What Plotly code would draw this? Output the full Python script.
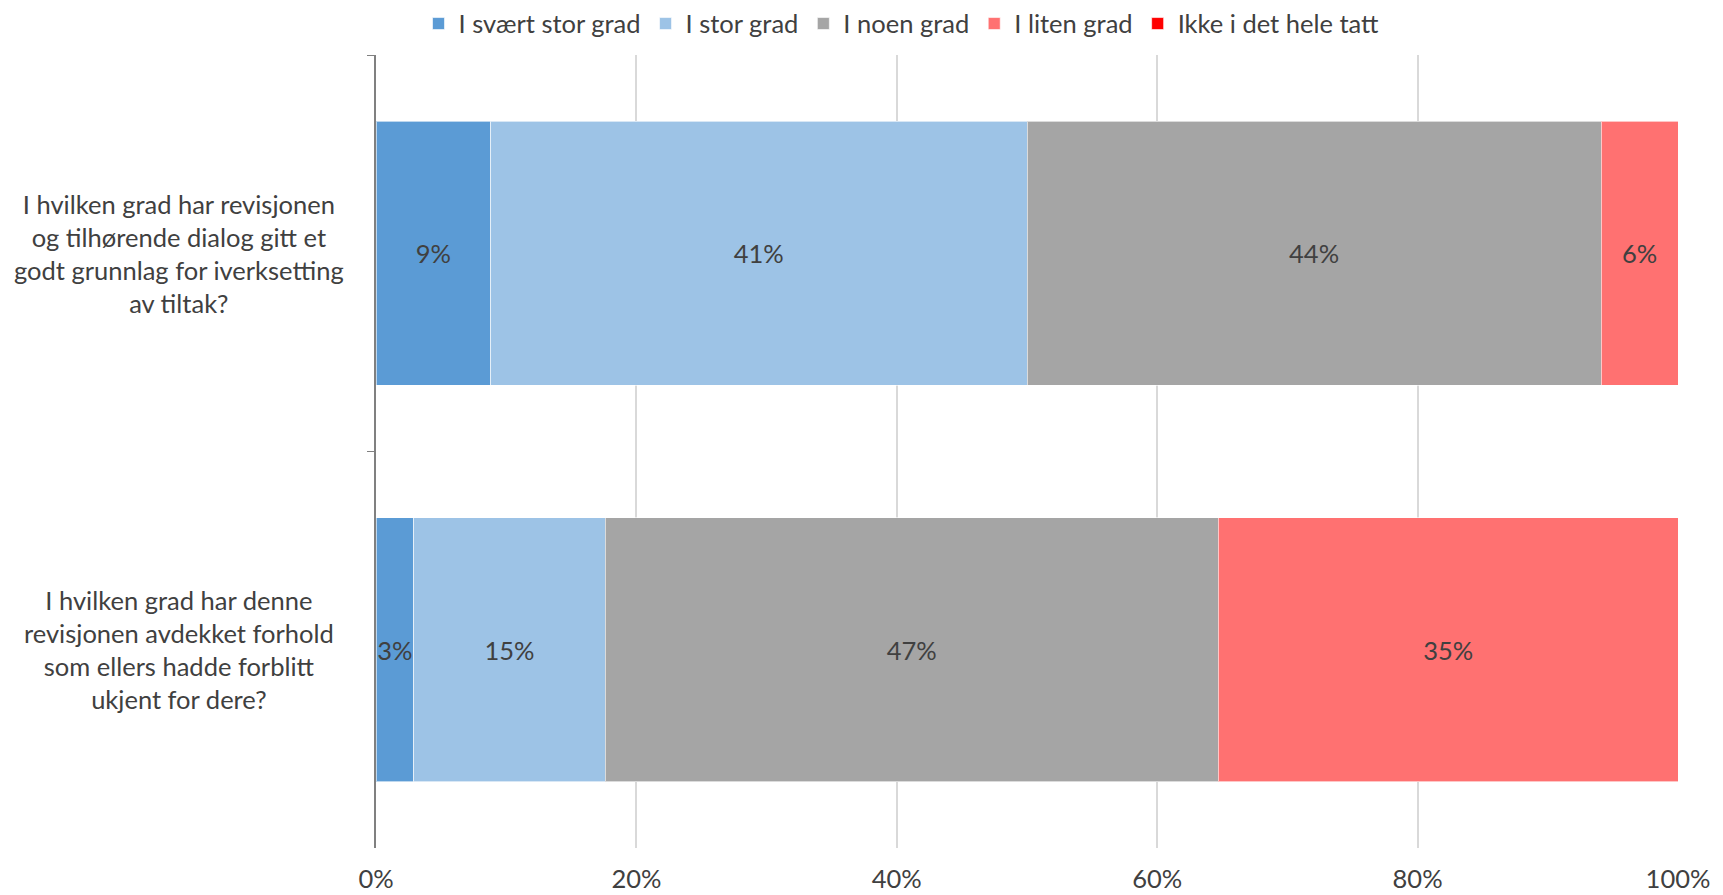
import plotly.graph_objects as go

categories = [
    "I hvilken grad har revisjonen<br>og tilhørende dialog gitt et<br>godt grunnlag for iverksetting<br>av tiltak?",
    "I hvilken grad har denne<br>revisjonen avdekket forhold<br>som ellers hadde forblitt<br>ukjent for dere?",
]
series_names = ["I svært stor grad", "I stor grad", "I noen grad", "I liten grad", "Ikke i det hele tatt"]
svaert_stor = [8.8, 2.9]
stor = [41.2, 14.7]
noen = [44.1, 47.1]
liten = [5.9, 35.3]
ikke = [0.0, 0.0]
series_values = [svaert_stor, stor, noen, liten, ikke]
colors = ["#5B9BD5", "#9DC3E6", "#A5A5A5", "#FF7171", "#FF0000"]
x_ticks = [0, 20, 40, 60, 80, 100]

FONT = "Lato, Open Sans, sans-serif"
FS = 25.5
TXT = "#404040"

fig = go.Figure()
for name, vals, col in zip(series_names, series_values, colors):
    fig.add_trace(go.Bar(
        y=categories, x=vals, name=name, orientation="h",
        marker=dict(color=col, line=dict(color="rgba(255,255,255,0.6)", width=1)),
        text=[f"{v:.0f}%" if v > 0 else "" for v in vals],
        textposition="inside", insidetextanchor="middle", textangle=0,
        textfont=dict(family=FONT, size=FS, color=TXT),
        hoverinfo="skip",
    ))

for c in categories:
    fig.add_annotation(x=-0.151, xref="paper", y=c, yref="y", text=c,
                       showarrow=False, align="center", xanchor="center",
                       font=dict(family=FONT, size=FS, color=TXT))

fig.update_layout(
    barmode="stack", bargap=0.333,
    width=1715, height=887,
    margin=dict(l=368, r=45, t=47, b=47, autoexpand=False),
    paper_bgcolor="white", plot_bgcolor="white",
    font=dict(family=FONT, size=FS, color=TXT),
    uniformtext=dict(minsize=FS, mode="show"),
    legend=dict(orientation="h", xref="container", yref="container",
                x=0.521, xanchor="center", y=0.982, yanchor="middle",
                font=dict(family=FONT, size=FS, color=TXT),
                traceorder="normal", itemwidth=30),
    showlegend=True,
)
fig.update_xaxes(range=[0, 100], tickvals=x_ticks, ticktext=[f"{t}%" for t in x_ticks],
                 showgrid=True, gridcolor="#D9D9D9", gridwidth=1.5, zeroline=False,
                 showline=False, ticks="outside", ticklen=8, tickcolor="rgba(0,0,0,0)",
                 tickfont=dict(family=FONT, size=FS, color=TXT),
                 fixedrange=True)
fig.update_yaxes(categoryorder="array", categoryarray=categories, range=[1.5, -0.5],
                 showticklabels=False, showline=True, linecolor="#808080", linewidth=1.5,
                 ticks="outside", tickson="boundaries", ticklen=7, tickcolor="#808080",
                 showgrid=False, zeroline=False)

fig.write_html("out.html")
